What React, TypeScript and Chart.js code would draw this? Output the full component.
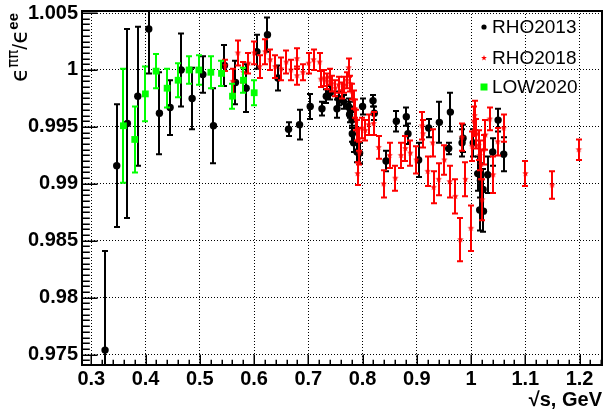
import { useEffect, useRef } from "react";
import { Chart, registerables } from "chart.js";
Chart.register(...registerables);

// ---------- data ----------
const rho2013X = [0.3253, 0.3468, 0.3665, 0.3856, 0.4059, 0.4255, 0.4452, 0.4655, 0.4858, 0.5055, 0.5251, 0.5454, 0.5657, 0.5854, 0.6052, 0.6247, 0.6439, 0.6635, 0.6838, 0.7035, 0.7251, 0.7331, 0.7404, 0.7528, 0.7557, 0.7650, 0.7742, 0.7760, 0.7773, 0.7804, 0.7810, 0.7834, 0.7897, 0.7945, 0.8000, 0.8192, 0.8216, 0.8432, 0.8622, 0.8806, 0.8837, 0.9033, 0.9218, 0.9415, 0.9587, 0.9618, 0.9834, 0.9852, 1.0040, 1.0122, 1.0159, 1.0172, 1.0221, 1.0228, 1.0306, 1.0398, 1.0498, 1.0601];
const rho2013Y = [0.9754, 0.9916, 0.9953, 0.9977, 1.0036, 0.9962, 0.9967, 1.0000, 0.9975, 0.9996, 0.9951, 1.0004, 0.9989, 0.9984, 1.0016, 1.0031, 0.9993, 0.9948, 0.9952, 0.9968, 0.9966, 0.9977, 0.9980, 0.9966, 0.9975, 0.9972, 0.9968, 0.9961, 0.9965, 0.9956, 0.9944, 0.9936, 0.9928, 0.9927, 0.9968, 0.9973, 0.9962, 0.9920, 0.9955, 0.9959, 0.9944, 0.9921, 0.9949, 0.9954, 0.9931, 0.9963, 0.9936, 0.9940, 0.9936, 0.9909, 0.9877, 0.9903, 0.9895, 0.9876, 0.9908, 0.9928, 0.9956, 0.9926];
const rho2013Err = [0.0087, 0.0054, 0.0083, 0.0061, 0.0039, 0.0036, 0.0024, 0.0032, 0.0027, 0.0016, 0.0033, 0.0018, 0.0019, 0.0021, 0.0015, 0.0015, 0.0011, 0.0006, 0.0013, 0.0011, 0.0006, 0.0006, 0.0006, 0.0008, 0.0006, 0.0006, 0.0007, 0.0007, 0.0007, 0.0007, 0.0007, 0.0008, 0.0009, 0.0009, 0.0007, 0.0005, 0.0006, 0.0009, 0.0009, 0.0008, 0.0009, 0.0015, 0.0008, 0.0018, 0.0005, 0.0017, 0.0012, 0.0012, 0.0012, 0.0015, 0.0018, 0.0015, 0.0018, 0.0018, 0.0016, 0.0012, 0.0010, 0.0015];

const rho2018X = [0.5467, 0.5609, 0.5701, 0.5804, 0.5897, 0.6002, 0.6101, 0.6205, 0.6297, 0.6389, 0.6500, 0.6592, 0.6679, 0.6790, 0.6790, 0.6900, 0.7004, 0.7096, 0.7207, 0.7232, 0.7293, 0.7343, 0.7392, 0.7435, 0.7496, 0.7557, 0.7620, 0.7662, 0.7712, 0.7742, 0.7773, 0.7804, 0.7834, 0.7865, 0.7884, 0.7897, 0.7908, 0.7927, 0.7940, 0.7989, 0.8050, 0.8111, 0.8203, 0.8295, 0.8387, 0.8498, 0.8603, 0.8709, 0.8788, 0.8880, 0.8991, 0.9096, 0.9114, 0.9200, 0.9292, 0.9310, 0.9402, 0.9507, 0.9605, 0.9710, 0.9803, 0.9834, 0.9895, 0.9997, 1.0018, 1.0048, 1.0066, 1.0098, 1.0141, 1.0159, 1.0185, 1.0203, 1.0234, 1.0264, 1.0343, 1.0406, 1.0491, 1.0601, 1.1002, 1.1494, 1.1985];
const rho2018Y = [1.0004, 0.9990, 1.0015, 0.9998, 1.0006, 1.0015, 1.0003, 1.0016, 1.0009, 1.0003, 1.0001, 1.0007, 1.0000, 1.0010, 0.9995, 0.9998, 1.0006, 1.0009, 1.0007, 0.9992, 0.9993, 0.9990, 0.9994, 0.9988, 0.9984, 0.9987, 0.9982, 0.9987, 0.9991, 1.0002, 0.9988, 0.9981, 0.9974, 0.9966, 0.9956, 0.9947, 0.9909, 0.9939, 0.9927, 0.9949, 0.9947, 0.9952, 0.9953, 0.9932, 0.9900, 0.9925, 0.9905, 0.9925, 0.9931, 0.9927, 0.9921, 0.9951, 0.9944, 0.9911, 0.9936, 0.9897, 0.9904, 0.9921, 0.9902, 0.9889, 0.9851, 0.9941, 0.9904, 0.9861, 0.9933, 0.9955, 0.9960, 0.9944, 0.9934, 0.9925, 0.9917, 0.9886, 0.9930, 0.9943, 0.9957, 0.9908, 0.9937, 0.9949, 0.9909, 0.9899, 0.9930];
const rho2018Err = [0.0005, 0.0011, 0.0011, 0.0009, 0.0009, 0.0010, 0.0010, 0.0011, 0.0009, 0.0010, 0.0010, 0.0010, 0.0009, 0.0009, 0.0008, 0.0007, 0.0009, 0.0009, 0.0008, 0.0007, 0.0007, 0.0007, 0.0007, 0.0007, 0.0007, 0.0007, 0.0007, 0.0007, 0.0007, 0.0008, 0.0007, 0.0007, 0.0008, 0.0008, 0.0009, 0.0009, 0.0010, 0.0010, 0.0010, 0.0009, 0.0009, 0.0009, 0.0010, 0.0010, 0.0012, 0.0011, 0.0011, 0.0011, 0.0011, 0.0011, 0.0012, 0.0012, 0.0012, 0.0013, 0.0012, 0.0014, 0.0014, 0.0013, 0.0014, 0.0015, 0.0019, 0.0012, 0.0015, 0.0020, 0.0013, 0.0013, 0.0013, 0.0013, 0.0013, 0.0013, 0.0013, 0.0018, 0.0013, 0.0013, 0.0010, 0.0016, 0.0012, 0.0012, 0.0011, 0.0012, 0.0009];

const low2020X = [0.3591, 0.3800, 0.3996, 0.4194, 0.4397, 0.4600, 0.4803, 0.4982, 0.5203, 0.5399, 0.5602, 0.5804, 0.6002];
const low2020Y = [0.9951, 0.9939, 0.9979, 0.9999, 0.9984, 0.9991, 1.0000, 1.0000, 0.9998, 0.9997, 0.9977, 0.9991, 0.9980];
const low2020Err = [0.0050, 0.0029, 0.0024, 0.0015, 0.0017, 0.0015, 0.0012, 0.0013, 0.0014, 0.0011, 0.0011, 0.0011, 0.0011];

const seriesLabels = ["RHO2013", "RHO2018", "LOW2020"];
const xTickValues = [0.3, 0.4, 0.5, 0.6, 0.7, 0.8, 0.9, 1.0, 1.1, 1.2];
const xTickLabels = ["0.3", "0.4", "0.5", "0.6", "0.7", "0.8", "0.9", "1", "1.1", "1.2"];
const yTickValues = [0.975, 0.98, 0.985, 0.99, 0.995, 1.0, 1.005];
const yTickLabels = ["0.975", "0.98", "0.985", "0.99", "0.995", "1", "1.005"];
const xTitle = "\u221As, GeV";
const X_MIN = 0.2828, X_MAX = 1.2413, Y_MIN = 0.97409, Y_MAX = 1.00518;

const FONT = '"Liberation Sans", Arial, Helvetica, sans-serif';
const RED = "#ff0000";
const GREEN = "#00ff00";

function makeStar(r: number, color: string) {
  const c = document.createElement("canvas");
  const s = Math.ceil(r * 2 + 2);
  c.width = s;
  c.height = s;
  const g = c.getContext("2d")!;
  g.fillStyle = color;
  g.beginPath();
  for (let i = 0; i < 10; i++) {
    const rad = i % 2 === 0 ? r : r * 0.42;
    const a = -Math.PI / 2 + (i * Math.PI) / 5;
    const px = s / 2 + rad * Math.cos(a);
    const py = s / 2 + rad * Math.sin(a);
    if (i === 0) g.moveTo(px, py);
    else g.lineTo(px, py);
  }
  g.closePath();
  g.fill();
  return c;
}

const zip = (xs: number[], ys: number[]) => xs.map((x, i) => ({ x, y: ys[i] }));

const errorBarPlugin = {
  id: "errorBars",
  beforeDatasetDraw(chart: any, args: any) {
    const ds = chart.data.datasets[args.index];
    const errs: number[] = ds.errors;
    if (!errs) return;
    const ys = chart.scales.y;
    const ctx = chart.ctx;
    const a = chart.chartArea;
    ctx.save();
    ctx.beginPath();
    ctx.rect(a.left, a.top, a.right - a.left, a.bottom - a.top);
    ctx.clip();
    ctx.strokeStyle = ds.errorColor;
    ctx.lineWidth = 2;
    args.meta.data.forEach((el: any, i: number) => {
      const v = ds.data[i].y;
      const e = errs[i];
      const px = Math.round(el.x);
      const yt = ys.getPixelForValue(v + e);
      const yb = ys.getPixelForValue(v - e);
      ctx.beginPath();
      ctx.moveTo(px, yt);
      ctx.lineTo(px, yb);
      ctx.moveTo(px - 3, yt);
      ctx.lineTo(px + 3, yt);
      ctx.moveTo(px - 3, yb);
      ctx.lineTo(px + 3, yb);
      ctx.stroke();
    });
    ctx.restore();
  },
};

const decorPlugin = {
  id: "decor",
  afterDraw(chart: any) {
    const ctx = chart.ctx;
    const a = chart.chartArea;
    const xs = chart.scales.x;
    const ys = chart.scales.y;
    ctx.save();
    // ticks (inward)
    ctx.strokeStyle = "#000";
    ctx.lineWidth = 1.5;
    ctx.beginPath();
    for (let i = Math.ceil(X_MIN / 0.02 - 1e-6); i * 0.02 <= X_MAX + 1e-9; i++) {
      const px = Math.round(xs.getPixelForValue(i * 0.02)) + 0.25;
      const len = i % 5 === 0 ? 10.6 : 5.3;
      ctx.moveTo(px, a.bottom);
      ctx.lineTo(px, a.bottom - len);
    }
    for (let i = Math.ceil(Y_MIN / 0.0005 - 1e-6); i * 0.0005 <= Y_MAX + 1e-9; i++) {
      const py = Math.round(ys.getPixelForValue(i * 0.0005)) + 0.25;
      const len = i % 10 === 0 ? 15.6 : 7.8;
      ctx.moveTo(a.left, py);
      ctx.lineTo(a.left + len, py);
    }
    ctx.stroke();
    // frame
    ctx.lineWidth = 2;
    ctx.strokeRect(a.left, a.top, a.right - a.left, a.bottom - a.top);

    // x title
    ctx.fillStyle = "#000";
    ctx.font = `bold 20px ${FONT}`;
    ctx.textAlign = "right";
    ctx.textBaseline = "middle";
    ctx.fillText(xTitle, a.right, 400);

    // y title: ϵ^ππ / ϵ^ee (rotated)
    const segs: [string, string, number][] = [
      ["\u03F5", `23px "DejaVu Sans", sans-serif`, 0],
      ["\u03C0\u03C0", `15px "DejaVu Sans", sans-serif`, -9],
      ["/", `21px ${FONT}`, 0],
      ["\u03F5", `23px "DejaVu Sans", sans-serif`, 0],
      ["ee", `bold 15px ${FONT}`, -9],
    ];
    let total = 0;
    const widths = segs.map(([t, f]) => {
      ctx.font = f;
      const w = ctx.measureText(t).width;
      total += w;
      return w;
    });
    ctx.translate(27, 13 + total);
    ctx.rotate(-Math.PI / 2);
    ctx.textAlign = "left";
    ctx.textBaseline = "alphabetic";
    let cx = 0;
    segs.forEach(([t, f, dy], i) => {
      ctx.font = f;
      ctx.fillText(t, cx, dy);
      cx += widths[i];
    });
    ctx.restore();

    // legend
    ctx.save();
    const legY = [27, 58, 87];
    const mx = 484;
    ctx.fillStyle = "#000";
    ctx.beginPath();
    ctx.arc(mx, legY[0], 2.6, 0, Math.PI * 2);
    ctx.fill();
    const st = makeStar(3, RED);
    ctx.drawImage(st, mx - st.width / 2, legY[1] - st.height / 2);
    ctx.fillStyle = GREEN;
    ctx.fillRect(mx - 3.5, legY[2] - 3.5, 7, 7);
    ctx.fillStyle = "#000";
    ctx.font = `19px ${FONT}`;
    ctx.textAlign = "left";
    ctx.textBaseline = "middle";
    seriesLabels.forEach((l, i) => ctx.fillText(l, 492, legY[i] + 1));
    ctx.restore();
  },
};

export default function App() {
  const ref = useRef<HTMLCanvasElement>(null);
  useEffect(() => {
    const star = makeStar(3.4, RED);
    const tickFont = { family: FONT, size: 20, weight: "bold" as const };
    const chart = new Chart(ref.current!, {
      type: "scatter",
      data: {
        datasets: [
          {
            label: seriesLabels[2],
            data: zip(low2020X, low2020Y),
            pointStyle: "rect",
            pointRadius: 4.8,
            backgroundColor: GREEN,
            borderWidth: 0,
            order: 1,
            errors: low2020Err,
            errorColor: GREEN,
          } as any,
          {
            label: seriesLabels[1],
            data: zip(rho2018X, rho2018Y),
            pointStyle: star,
            pointRadius: 4,
            backgroundColor: RED,
            borderWidth: 0,
            order: 2,
            errors: rho2018Err,
            errorColor: RED,
          } as any,
          {
            label: seriesLabels[0],
            data: zip(rho2013X, rho2013Y),
            pointStyle: "circle",
            pointRadius: 3.7,
            backgroundColor: "#000",
            borderWidth: 0,
            order: 3,
            errors: rho2013Err,
            errorColor: "#000",
          } as any,
        ],
      },
      options: {
        animation: false,
        responsive: false,
        events: [],
        layout: { padding: { top: 11, right: 12, left: 0, bottom: 0 } },
        plugins: { legend: { display: false }, tooltip: { enabled: false } },
        scales: {
          x: {
            type: "linear",
            min: X_MIN,
            max: X_MAX,
            afterBuildTicks: (s: any) => {
              s.ticks = xTickValues.map((v) => ({ value: v }));
            },
            afterFit: (s: any) => {
              s.height = 44;
              s.paddingLeft = 0;
              s.paddingRight = 0;
              s.paddingTop = 0;
              s.paddingBottom = 0;
            },
            ticks: {
              callback: (_v: any, i: number) => xTickLabels[i],
              font: tickFont,
              color: "#000",
              padding: 2,
              autoSkip: false,
              maxRotation: 0,
              includeBounds: false,
            },
            grid: { color: "#000", lineWidth: 1, drawTicks: false },
            border: { display: false, dash: [1, 2] },
          },
          y: {
            type: "linear",
            min: Y_MIN,
            max: Y_MAX,
            afterBuildTicks: (s: any) => {
              s.ticks = yTickValues.map((v) => ({ value: v }));
            },
            afterFit: (s: any) => {
              s.width = 82;
              s.paddingLeft = 0;
              s.paddingRight = 0;
              s.paddingTop = 0;
              s.paddingBottom = 0;
            },
            ticks: {
              callback: (_v: any, i: number) => yTickLabels[i],
              font: tickFont,
              color: "#000",
              padding: 4,
              autoSkip: false,
              includeBounds: false,
            },
            grid: { color: "#000", lineWidth: 1, drawTicks: false },
            border: { display: false, dash: [1, 2] },
          },
        },
      },
      plugins: [errorBarPlugin, decorPlugin],
    });
    return () => chart.destroy();
  }, []);
  return (
    <canvas
      ref={ref}
      width={614}
      height={409}
      style={{ position: "absolute", left: 0, top: 0, width: 614, height: 409, display: "block" }}
    />
  );
}
